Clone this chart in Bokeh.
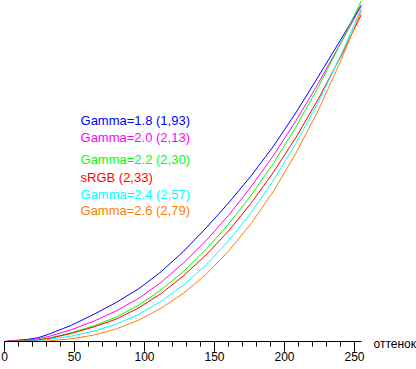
from bokeh.plotting import figure
from bokeh.models import Range1d, SingleIntervalTicker, Label
from bokeh.core.properties import value
from bokeh.embed import file_html
from bokeh.resources import INLINE

# ---- data ----
shade = [0, 8, 16, 24, 32, 48, 64, 80, 96, 112, 128, 144, 160, 176, 192, 208, 224, 240, 255]
gamma_18 = [0, 0.003, 0.006, 0.011, 0.022, 0.048, 0.080, 0.115, 0.155, 0.205, 0.265, 0.333, 0.406, 0.485, 0.572, 0.670, 0.776, 0.884, 0.988]
gamma_20 = [0, 0.003, 0.004, 0.008, 0.015, 0.035, 0.060, 0.090, 0.127, 0.174, 0.231, 0.296, 0.370, 0.453, 0.545, 0.646, 0.756, 0.874, 0.985]
gamma_22 = [0, 0.001, 0.002, 0.005, 0.010, 0.026, 0.046, 0.072, 0.107, 0.152, 0.206, 0.270, 0.344, 0.428, 0.522, 0.628, 0.745, 0.873, 1.000]
srgb     = [0, 0.001, 0.002, 0.004, 0.009, 0.024, 0.043, 0.066, 0.099, 0.141, 0.193, 0.254, 0.324, 0.405, 0.496, 0.597, 0.710, 0.834, 0.960]
gamma_24 = [0, 0.000, 0.001, 0.002, 0.006, 0.016, 0.031, 0.051, 0.080, 0.118, 0.166, 0.225, 0.295, 0.377, 0.472, 0.580, 0.701, 0.837, 0.978]
gamma_26 = [0, 0.000, 0.000, 0.000, 0.002, 0.008, 0.019, 0.037, 0.063, 0.098, 0.142, 0.197, 0.265, 0.345, 0.440, 0.551, 0.677, 0.821, 0.972]

series_labels = ["Gamma=1.8 (1,93)", "Gamma=2.0 (2,13)", "Gamma=2.2 (2,30)",
                 "sRGB (2,33)", "Gamma=2.4 (2,57)", "Gamma=2.6 (2,79)"]
series_values = [gamma_18, gamma_20, gamma_22, srgb, gamma_24, gamma_26]
series_colors = ["#0000ff", "#ff00ff", "#00ff00", "#ff0000", "#00ffff", "#ff8000"]
axis_title = "оттенок"

# ---- layout ----
label_x = 54.3
label_y = [0.648, 0.597, 0.534, 0.481, 0.431, 0.383]

FONT = "Liberation Sans"

p = figure(width=416, height=369, output_backend="svg", toolbar_location=None,
           x_range=Range1d(0, 255), y_range=Range1d(0, 1),
           min_border_left=4, min_border_right=55, min_border_top=0, min_border_bottom=28,
           y_axis_location=None)
p.outline_line_color = None
p.xgrid.visible = False
p.ygrid.visible = False
p.background_fill_color = "white"
p.border_fill_color = "white"

for vals, col in zip(series_values, series_colors):
    p.line(shade, vals, line_color=col, line_width=1)

p.text(x=[label_x] * len(series_labels), y=label_y, text=series_labels,
       text_color=series_colors, text_font=value(FONT), text_font_size=value("13px"),
       text_baseline="alphabetic", text_align="left")

ax = p.xaxis[0]
ax.ticker = SingleIntervalTicker(interval=50, num_minor_ticks=5)
ax.axis_line_color = "black"
ax.major_tick_line_color = "black"
ax.minor_tick_line_color = "black"
ax.major_tick_in = 0
ax.major_tick_out = 10
ax.minor_tick_in = 0
ax.minor_tick_out = 5
ax.major_label_standoff = 0
ax.major_label_text_font = FONT
ax.major_label_text_font_size = "12px"
ax.major_label_text_color = "black"

p.add_layout(Label(x=263.6, y=-0.006, text=axis_title, text_font=FONT,
                   text_font_size="12px", text_color="black",
                   text_baseline="alphabetic", text_align="left"), "right")

open("out.html", "w").write(file_html(p, INLINE))
